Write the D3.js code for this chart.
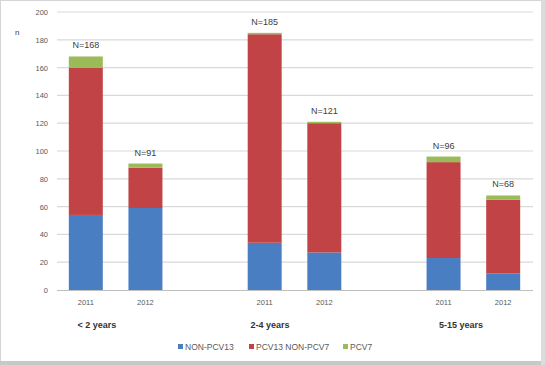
<!DOCTYPE html>
<html><head><meta charset="utf-8">
<script src="https://cdn.jsdelivr.net/npm/d3@7"></script>
<style>body{margin:0;background:#fff;}svg{display:block;font-family:"Liberation Sans",Arial,sans-serif;}</style>
</head><body>
<script>
const slots = ["g1-2011","g1-2012","gap1","g2-2011","g2-2012","gap2","g3-2011","g3-2012"];
const categories = ["g1-2011","g1-2012","g2-2011","g2-2012","g3-2011","g3-2012"];
const yearLabels = ["2011","2012","2011","2012","2011","2012"];
const groupLabels = ["< 2 years","2-4 years","5-15 years"];
const seriesNames = ["NON-PCV13","PCV13 NON-PCV7","PCV7"];
const nonPCV13 = [54, 59, 34, 27, 23, 12];
const pcv13nonPCV7 = [106, 29, 150, 93, 69, 53];
const pcv7 = [8, 3, 1, 1, 4, 3];
const nLabels = ["N=168","N=91","N=185","N=121","N=96","N=68"];
const yTicks = [0,20,40,60,80,100,120,140,160,180,200];
const colors = ["#4A7EC2","#C24345","#9BBB59"];

const W = 545, H = 365;
const svg = d3.select("body").append("svg").attr("width", W).attr("height", H);

// chart frame
svg.append("rect").attr("x",0.5).attr("y",0.5).attr("width",W-4).attr("height",H-4)
  .attr("fill","#fff").attr("stroke","#d4d4d4").attr("stroke-width",1);
svg.append("rect").attr("x",0).attr("y",H-4).attr("width",W).attr("height",4).attr("fill","#c8c8c8");
svg.append("rect").attr("x",W-4).attr("y",0).attr("width",4).attr("height",H).attr("fill","#dcdcdc");

const x = d3.scaleBand().domain(slots).range([56, 533]).paddingInner(0.43).paddingOuter(0.215);
const y = d3.scaleLinear().domain([0, 200]).range([290, 12]);

// gridlines
svg.append("g").selectAll("line").data(yTicks.filter(d=>d>0)).join("line")
  .attr("x1",57).attr("x2",533).attr("y1",d=>y(d)).attr("y2",d=>y(d))
  .attr("stroke","#d9d9d9").attr("stroke-width",1.2);

// y axis labels
const yAxis = d3.axisLeft(y).tickValues(yTicks).tickSize(0).tickPadding(0);
const gy = svg.append("g").attr("transform","translate(48,0)").call(yAxis);
gy.select(".domain").remove();
gy.selectAll("text").attr("font-size",7.5).attr("fill","#595959");
svg.append("text").attr("x",15).attr("y",35).attr("font-size",8).attr("fill","#404040").text("n");

// stacked data
const rows = categories.map((c,i)=>({cat:c, a:nonPCV13[i], b:pcv13nonPCV7[i], c2:pcv7[i]}));
const stack = d3.stack().keys(["a","b","c2"])(rows);
svg.append("g").selectAll("g").data(stack).join("g").attr("fill",(d,i)=>colors[i])
  .selectAll("rect").data(d=>d).join("rect")
  .attr("x",d=>x(d.data.cat)).attr("width",x.bandwidth())
  .attr("y",d=>y(d[1])).attr("height",d=>y(d[0])-y(d[1]));

// baseline
svg.append("line").attr("x1",57).attr("x2",533).attr("y1",y(0)+0.5).attr("y2",y(0)+0.5)
  .attr("stroke","#bfbfbf").attr("stroke-width",1);

// N labels
svg.append("g").selectAll("text").data(categories).join("text")
  .attr("x",d=>x(d)+x.bandwidth()/2)
  .attr("y",(d,i)=>y(nonPCV13[i]+pcv13nonPCV7[i]+pcv7[i])-8)
  .attr("text-anchor","middle").attr("font-size",9).attr("fill","#404040")
  .text((d,i)=>nLabels[i]);

// year labels
svg.append("g").selectAll("text").data(categories).join("text")
  .attr("x",d=>x(d)+x.bandwidth()/2).attr("y",305)
  .attr("text-anchor","middle").attr("font-size",7.5).attr("fill","#595959")
  .text((d,i)=>yearLabels[i]);

// group labels
const groupX = [97, 270, 461];
svg.append("g").selectAll("text").data(groupLabels).join("text")
  .attr("x",(d,i)=>groupX[i]).attr("y",328)
  .attr("text-anchor","middle").attr("font-size",9).attr("font-weight","bold").attr("fill","#333")
  .text(d=>d);

// legend
const legX = [178, 249, 343];
const leg = svg.append("g").selectAll("g").data(seriesNames).join("g")
  .attr("transform",(d,i)=>`translate(${legX[i]},347)`);
leg.append("rect").attr("x",0).attr("y",-3).attr("width",5).attr("height",5).attr("fill",(d,i)=>colors[i]);
leg.append("text").attr("x",7).attr("y",2.5).attr("font-size",8.5).attr("fill","#595959").text(d=>d);
</script>
</body></html>
